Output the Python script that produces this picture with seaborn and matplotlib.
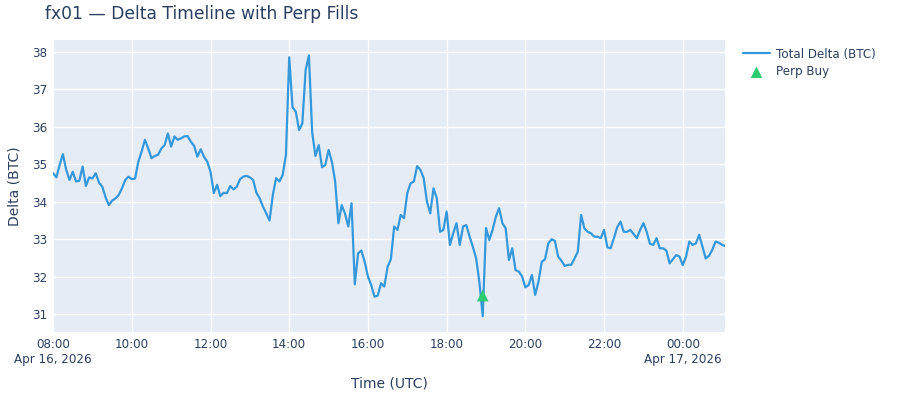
import pandas as pd
import numpy as np
import matplotlib
matplotlib.use('Agg')
import matplotlib.pyplot as plt
import seaborn as sns

# Total delta in BTC, one reading every 5 minutes from 08:00 UTC Apr 16, 2026
delta_values = [
    34.76, 34.65, 34.98, 35.27, 34.85, 34.58, 34.80, 34.54, 34.56, 34.94,
    34.42, 34.65, 34.62, 34.76, 34.51, 34.40, 34.12, 33.91, 34.03, 34.09,
    34.18, 34.36, 34.58, 34.67, 34.60, 34.62, 35.07, 35.34, 35.65, 35.42,
    35.16, 35.22, 35.25, 35.42, 35.51, 35.82, 35.47, 35.74, 35.65, 35.69,
    35.74, 35.75, 35.60, 35.49, 35.20, 35.40, 35.20, 35.07, 34.80, 34.23,
    34.45, 34.15, 34.24, 34.23, 34.42, 34.33, 34.40, 34.60, 34.67, 34.69,
    34.65, 34.58, 34.24, 34.09, 33.87, 33.69, 33.50, 34.18, 34.63, 34.54,
    34.71, 35.25, 37.85, 36.52, 36.40, 35.91, 36.09, 37.51, 37.90, 35.85,
    35.22, 35.51, 34.92, 34.98, 35.38, 35.07, 34.54, 33.43, 33.91, 33.69,
    33.34, 33.96, 31.80, 32.63, 32.70, 32.40, 32.01, 31.78, 31.47, 31.50,
    31.83, 31.74, 32.27, 32.47, 33.34, 33.25, 33.65, 33.56, 34.23, 34.49,
    34.54, 34.95, 34.85, 34.63, 34.00, 33.69, 34.36, 34.09, 33.20, 33.25,
    33.74, 32.85, 33.16, 33.43, 32.85, 33.34, 33.38, 33.07, 32.80, 32.49,
    31.85, 30.95, 33.30, 32.98, 33.25, 33.60, 33.83, 33.43, 33.29, 32.45,
    32.76, 32.18, 32.14, 32.01, 31.72, 31.78, 32.05, 31.52, 31.87, 32.40,
    32.47, 32.89, 33.00, 32.96, 32.54, 32.43, 32.29, 32.32, 32.32, 32.49,
    32.67, 33.65, 33.29, 33.20, 33.16, 33.07, 33.07, 33.03, 33.25, 32.79,
    32.76, 33.03, 33.32, 33.47, 33.20, 33.20, 33.25, 33.14, 33.03, 33.25,
    33.43, 33.20, 32.88, 32.85, 33.03, 32.76, 32.76, 32.70, 32.36, 32.47,
    32.58, 32.54, 32.31, 32.54, 32.94, 32.85, 32.89, 33.12, 32.80, 32.49,
    32.56, 32.72, 32.94, 32.91, 32.85, 32.82,
]
start_time = '2026-04-16 08:00'

# perp fills
fill_times = ['2026-04-16 18:55']
fill_deltas = [31.5]

tick_times = ['2026-04-16 08:00', '2026-04-16 10:00', '2026-04-16 12:00', '2026-04-16 14:00',
              '2026-04-16 16:00', '2026-04-16 18:00', '2026-04-16 20:00', '2026-04-16 22:00',
              '2026-04-17 00:00']
tick_labels = ['08:00\nApr 16, 2026', '10:00', '12:00', '14:00', '16:00', '18:00', '20:00',
               '22:00', '00:00\nApr 17, 2026']

df = pd.DataFrame({
    'time': pd.date_range(start_time, periods=len(delta_values), freq='5min'),
    'delta': delta_values,
})
df_fills = pd.DataFrame({'time': pd.to_datetime(fill_times), 'delta': fill_deltas})

text_color = '#2a3f5f'
sns.set_theme(style='darkgrid', rc={
    'axes.facecolor': '#e5ecf6',
    'grid.color': 'white',
    'grid.linewidth': 1.0,
    'axes.edgecolor': '#e5ecf6',
    'text.color': text_color,
    'axes.labelcolor': text_color,
    'xtick.color': text_color,
    'ytick.color': text_color,
})
plt.rcParams['font.family'] = ['DejaVu Sans']

fig = plt.figure(figsize=(9, 4), dpi=100)
ax = fig.add_axes([0.059, 0.17, 0.747, 0.73])

sns.lineplot(data=df, x='time', y='delta', ax=ax, color='#3498db', linewidth=1.6,
             label='Total Delta (BTC)')
sns.scatterplot(data=df_fills, x='time', y='delta', ax=ax, color='#2ecc71', marker='^',
                s=70, edgecolor='none', zorder=5, label='Perp Buy')

ax.set_xlim(df['time'].min(), df['time'].max())
ax.set_ylim(30.53, 38.31)
ax.set_yticks(range(31, 39))
ax.set_xticks(pd.to_datetime(tick_times))
ax.set_xticklabels(tick_labels)
ax.tick_params(axis='both', length=0, labelsize=8.6, pad=4)
for spine in ax.spines.values():
    spine.set_visible(False)

ax.set_xlabel('Time (UTC)', fontsize=10, labelpad=8)
ax.set_ylabel('Delta (BTC)', fontsize=10, labelpad=8)

handles, labels = ax.get_legend_handles_labels()
ax.get_legend().remove()
fig.legend(handles, labels, loc='upper left', bbox_to_anchor=(0.82, 0.893), frameon=False,
           fontsize=8.6, handlelength=2.3, handletextpad=0.5, borderaxespad=0,
           labelspacing=0.4)

fig.text(0.05, 0.965, 'fx01 — Delta Timeline with Perp Fills', fontsize=12.3,
         color=text_color, va='center')

plt.savefig('out.png', dpi=100)
